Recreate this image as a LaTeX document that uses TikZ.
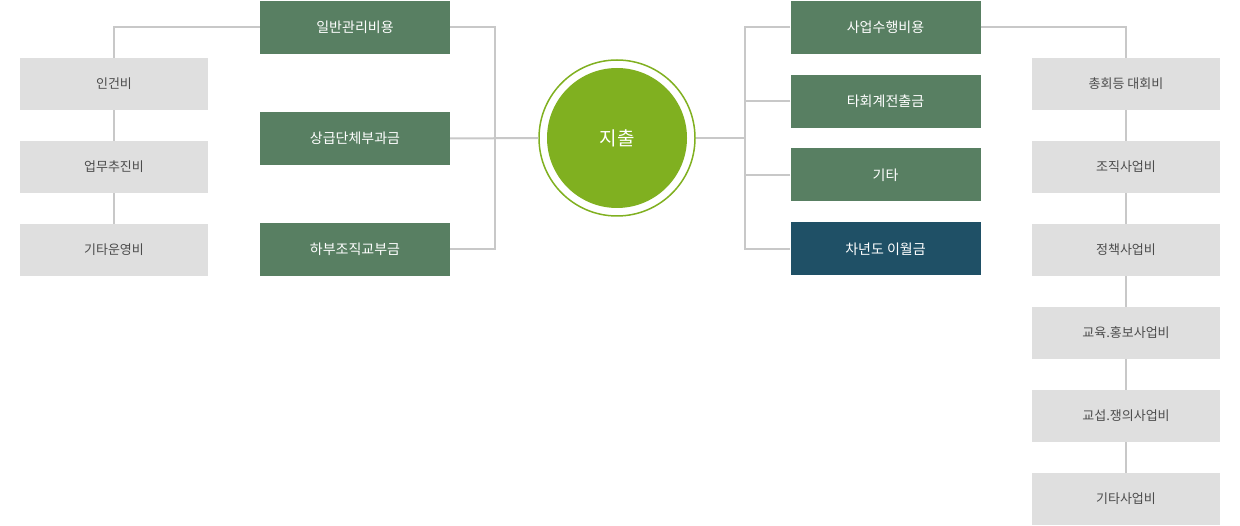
\documentclass[tikz,border=0pt]{standalone}
\usepackage{fontspec}
\setmainfont{Noto Sans CJK KR}
\begin{document}
\begin{tikzpicture}[x=1pt,y=-1pt,
 gbox/.style={draw=none,fill=gray!25!white,minimum width=188pt,minimum height=52pt,text=black!70,font=\fontsize{13}{13}\selectfont},
 green/.style={draw=none,fill={rgb,255:red,88;green,127;blue,98},minimum width=190pt,minimum height=53pt,text=white,font=\fontsize{14}{14}\selectfont},
 ln/.style={draw={rgb,255:red,200;green,200;blue,200},line width=2pt}]
\useasboundingbox (0,0) rectangle (1240,526);
\node[gbox] (a1) at (114,84) {인건비};
\node[gbox] (a2) at (114,167) {업무추진비};
\node[gbox] (a3) at (114,250) {기타운영비};
\node[green] (b1) at (355,27.5) {일반관리비용};
\node[green] (b2) at (355,138.5) {상급단체부과금};
\node[green] (b3) at (355,249.5) {하부조직교부금};
\node[circle,draw={rgb,255:red,128;green,176;blue,32},line width=1.5pt,minimum size=156pt] (c0) at (617,138) {};
\node[circle,fill={rgb,255:red,128;green,176;blue,32},minimum size=140pt,text=white,font=\fontsize{19}{19}\selectfont] (c) at (617,138) {지출};
\node[green] (r1) at (885.5,27.5) {사업수행비용};
\node[green] (r2) at (885.5,101.5) {타회계전출금};
\node[green] (r3) at (885.5,175) {기타};
\node[green,fill={rgb,255:red,31;green,80;blue,102}] (r4) at (885.5,249) {차년도 이월금};
\node[gbox] (g1) at (1126,84) {총회등 대회비};
\node[gbox] (g2) at (1126,167) {조직사업비};
\node[gbox] (g3) at (1126,250) {정책사업비};
\node[gbox] (g4) at (1126,333) {교육.홍보사업비};
\node[gbox] (g5) at (1126,416) {교섭.쟁의사업비};
\node[gbox] (g6) at (1126,499) {기타사업비};
\begin{scope}[on background layer/.try]
\draw[ln] (b1.west) -| (a1.north);
\draw[ln] (a1) -- (a2); \draw[ln] (a2) -- (a3);
\draw[ln] (b1.east) -| (495,138.5) |- (b3.east);
\draw[ln] (b2.east) -- (c0.west);
\draw[ln] (c0.east) -- (745,138);
\draw[ln] (r1.west) -| (745,138) |- (r4.west);
\draw[ln] (r2.west) -- (745,101.5);
\draw[ln] (r3.west) -- (745,175);
\draw[ln] (r1.east) -| (g1.north);
\draw[ln] (g1)--(g2); \draw[ln] (g2)--(g3); \draw[ln] (g3)--(g4); \draw[ln] (g4)--(g5); \draw[ln] (g5)--(g6);
\end{scope}
\end{tikzpicture}
\end{document}
